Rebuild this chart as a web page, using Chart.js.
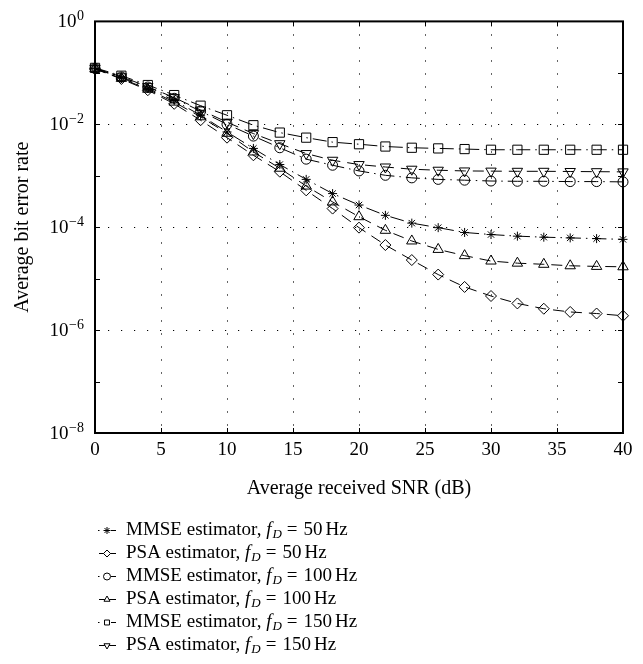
<!DOCTYPE html>
<html>
<head>
<meta charset="utf-8">
<script src="https://cdn.jsdelivr.net/npm/chart.js@4.4.1/dist/chart.umd.min.js"></script>
<style>
  html, body { margin: 0; padding: 0; background: #ffffff; }
  #wrap { width: 643px; height: 664px; position: relative; }
</style>
</head>
<body>
<div id="wrap"><canvas id="c" width="643" height="664"></canvas></div>
<script>
// ---- Data ----
const snrDb = [0, 2, 4, 6, 8, 10, 12, 14, 16, 18, 20, 22, 24, 26, 28, 30, 32, 34, 36, 38, 40];

const mmse50  = [0.121, 0.080, 0.050, 0.029, 0.015, 0.0071, 0.0034, 0.00165, 0.00085, 0.00045, 0.00027, 0.00017, 0.00012, 9.8e-5, 7.9e-5, 7.2e-5, 6.7e-5, 6.4e-5, 6.2e-5, 6.0e-5, 5.8e-5];
const psa50   = [0.119, 0.076, 0.046, 0.025, 0.012, 0.0055, 0.0025, 0.0012, 0.00052, 0.00023, 9.8e-5, 4.5e-5, 2.3e-5, 1.2e-5, 6.9e-6, 4.6e-6, 3.3e-6, 2.6e-6, 2.25e-6, 2.1e-6, 1.9e-6];
const mmse100 = [0.122, 0.083, 0.053, 0.032, 0.018, 0.010, 0.0059, 0.0035, 0.0021, 0.0016, 0.00124, 0.00102, 0.00091, 0.00085, 0.00082, 0.00079, 0.00078, 0.00078, 0.00077, 0.00077, 0.00076];
const psa100  = [0.120, 0.078, 0.048, 0.027, 0.014, 0.0067, 0.0029, 0.0014, 0.00063, 0.00031, 0.00016, 8.7e-5, 5.4e-5, 3.7e-5, 2.8e-5, 2.2e-5, 2.0e-5, 1.9e-5, 1.78e-5, 1.73e-5, 1.7e-5];
const mmse150 = [0.125, 0.088, 0.058, 0.037, 0.023, 0.015, 0.0096, 0.0069, 0.0055, 0.0045, 0.0041, 0.0037, 0.0035, 0.0034, 0.0033, 0.0032, 0.0032, 0.0032, 0.0032, 0.0032, 0.0032];
const psa150  = [0.123, 0.084, 0.054, 0.033, 0.019, 0.011, 0.0066, 0.0042, 0.0027, 0.0020, 0.00165, 0.00148, 0.00134, 0.00128, 0.00124, 0.00123, 0.00122, 0.00122, 0.00121, 0.0012, 0.00119];

const seriesEstimators = ['MMSE', 'PSA', 'MMSE', 'PSA', 'MMSE', 'PSA'];
const seriesDoppler    = [50, 50, 100, 100, 150, 150];

const xTickValues = [0, 5, 10, 15, 20, 25, 30, 35, 40];
const yTickValues = [1, 1e-2, 1e-4, 1e-6, 1e-8];
const yTickExponents = ['0', '\u22122', '\u22124', '\u22126', '\u22128'];

const xTitle = 'Average received SNR (dB)';
const yTitle = 'Average bit error rate';

// ---- Styles ----
const SERIF = "'Liberation Serif', 'DejaVu Serif', serif";
const seriesValues = [mmse50, psa50, mmse100, psa100, mmse150, psa150];
const markerStyles = [
  { style: 'star', radius: 4.5, rotation: 0 },
  { style: 'rectRot', radius: 5.5, rotation: 0 },
  { style: 'circle', radius: 5, rotation: 0 },
  { style: 'triangle', radius: 6, rotation: 0 },
  { style: 'rect', radius: 6.5, rotation: 0 },
  { style: 'triangle', radius: 6, rotation: 180 }
];
const MMSE_DASH = [14, 5, 1.5, 5];
const PSA_DASH = [11, 7];

const datasets = seriesValues.map((vals, i) => {
  const m = markerStyles[i];
  const isMmse = seriesEstimators[i] === 'MMSE';
  return {
    label: seriesEstimators[i] + ' estimator, f_D = ' + seriesDoppler[i] + ' Hz',
    data: snrDb.map((x, k) => ({ x: x, y: vals[k] })),
    borderColor: '#000',
    borderWidth: 1,
    borderDash: isMmse ? MMSE_DASH : PSA_DASH,
    pointStyle: m.style,
    pointRadius: m.radius,
    pointRotation: m.rotation,
    pointBorderColor: '#000',
    pointBackgroundColor: 'rgba(0,0,0,0)',
    pointBorderWidth: 1,
    tension: 0,
    fill: false,
    clip: false
  };
});

// ---- Plugin: box, inner ticks, legend ----
const decorPlugin = {
  id: 'decor',
  afterDatasetsDraw(chart) {
    const { ctx, chartArea: a, scales } = chart;
    const xs = scales.x, ys = scales.y;
    ctx.save();
    // inner tick marks
    ctx.strokeStyle = '#000';
    ctx.lineWidth = 1;
    ctx.setLineDash([]);
    ctx.beginPath();
    xTickValues.forEach(v => {
      const px = Math.round(xs.getPixelForValue(v)) + 0.5;
      ctx.moveTo(px, a.bottom); ctx.lineTo(px, a.bottom - 5);
      ctx.moveTo(px, a.top); ctx.lineTo(px, a.top + 5);
    });
    for (let e = 0; e >= -8; e--) {
      const py = Math.round(ys.getPixelForValue(Math.pow(10, e))) + 0.5;
      ctx.moveTo(a.left, py); ctx.lineTo(a.left + 5, py);
      ctx.moveTo(a.right, py); ctx.lineTo(a.right - 5, py);
    }
    ctx.stroke();
    // box
    ctx.lineWidth = 2;
    ctx.strokeRect(a.left, a.top, a.right - a.left, a.bottom - a.top);

    // legend
    const rowY0 = 530, rowStep = 23;
    const textX = 126;
    chart.data.datasets.forEach((ds, i) => {
      const y = rowY0 + i * rowStep;
      const mx = 107;
      ctx.strokeStyle = '#000';
      ctx.lineWidth = 1;
      ctx.setLineDash([]);
      ctx.beginPath();
      if (seriesEstimators[i] === 'MMSE') {
        ctx.moveTo(98, y + 0.5); ctx.lineTo(99.5, y + 0.5);
        ctx.moveTo(111, y + 0.5); ctx.lineTo(116, y + 0.5);
      } else {
        ctx.moveTo(99, y + 0.5); ctx.lineTo(116, y + 0.5);
      }
      ctx.stroke();
      const m = markerStyles[i];
      ctx.fillStyle = '#fff';
      ctx.strokeStyle = '#000';
      Chart.helpers.drawPoint(ctx, {
        pointStyle: m.style, radius: 3.5, rotation: m.rotation, borderWidth: 1
      }, mx, y + 0.5);
      // text
      ctx.fillStyle = '#000';
      ctx.textBaseline = 'middle';
      ctx.textAlign = 'left';
      let x = textX;
      ctx.font = "19px " + SERIF;
      const part1 = seriesEstimators[i] + ' estimator, ';
      ctx.fillText(part1, x, y);
      x += ctx.measureText(part1).width;
      ctx.font = "italic 19px " + SERIF;
      ctx.fillText('f', x, y);
      x += ctx.measureText('f').width + 1;
      ctx.font = "italic 13px " + SERIF;
      ctx.fillText('D', x, y + 5);
      x += ctx.measureText('D').width + 5;
      ctx.font = "19px " + SERIF;
      ctx.fillText('=', x, y);
      x += ctx.measureText('=').width + 6;
      const part3 = String(seriesDoppler[i]);
      ctx.fillText(part3, x, y);
      x += ctx.measureText(part3).width + 3;
      ctx.fillText('Hz', x, y);
    });
    ctx.restore();
  }
};

// y tick labels with superscript exponents
const yLabelPlugin = {
  id: 'ylabels',
  afterDraw(chart) {
    const { ctx, scales } = chart;
    const ys = scales.y;
    ctx.save();
    ctx.fillStyle = '#000';
    ctx.textBaseline = 'alphabetic';
    yTickValues.forEach((v, i) => {
      const py = ys.getPixelForValue(v);
      const exp = yTickExponents[i];
      ctx.font = "14px " + SERIF;
      const ew = ctx.measureText(exp).width;
      const rightEdge = 84;
      ctx.textAlign = 'left';
      ctx.fillText(exp, rightEdge - ew, py - 1);
      ctx.font = "19px " + SERIF;
      const bw = ctx.measureText('10').width;
      ctx.fillText('10', rightEdge - ew - bw - 0.5, py + 6);
    });
    ctx.restore();
  }
};

const chart = new Chart(document.getElementById('c').getContext('2d'), {
  type: 'line',
  data: { datasets: datasets },
  options: {
    responsive: false,
    animation: false,
    devicePixelRatio: 1,
    layout: { padding: { top: 21, right: 20, bottom: 159, left: 0 } },
    plugins: { legend: { display: false }, tooltip: { enabled: false } },
    scales: {
      x: {
        type: 'linear',
        min: 0, max: 40,
        afterBuildTicks: (s) => { s.ticks = xTickValues.map(v => ({ value: v })); },
        afterFit: (s) => { s.height = 72; },
        ticks: {
          color: '#000',
          font: { family: SERIF, size: 19 },
          padding: 6,
          maxRotation: 0,
          callback: (v) => String(v)
        },
        grid: { color: '#000', lineWidth: 1, drawTicks: false },
        border: { display: false, dash: [1.2, 11.8] },
        title: {
          display: true, text: xTitle, color: '#000',
          font: { family: SERIF, size: 20 },
          padding: { top: 0, bottom: 4 }
        }
      },
      y: {
        type: 'logarithmic',
        min: 1e-8, max: 1,
        afterBuildTicks: (s) => { s.ticks = yTickValues.map(v => ({ value: v })); },
        afterFit: (s) => { s.width = 95; },
        ticks: {
          color: 'rgba(0,0,0,0)',
          font: { family: SERIF, size: 19 },
          padding: 10,
          callback: (v) => {
            const i = yTickValues.indexOf(v);
            return i >= 0 ? '10^' + yTickExponents[i] : '';
          }
        },
        grid: { color: '#000', lineWidth: 1, drawTicks: false },
        border: { display: false, dash: [1.2, 11.8] },
        title: {
          display: true, text: yTitle, color: '#000',
          font: { family: SERIF, size: 20 },
          padding: { top: 11, bottom: 0 }
        }
      }
    }
  },
  plugins: [decorPlugin, yLabelPlugin]
});
</script>
</body>
</html>
